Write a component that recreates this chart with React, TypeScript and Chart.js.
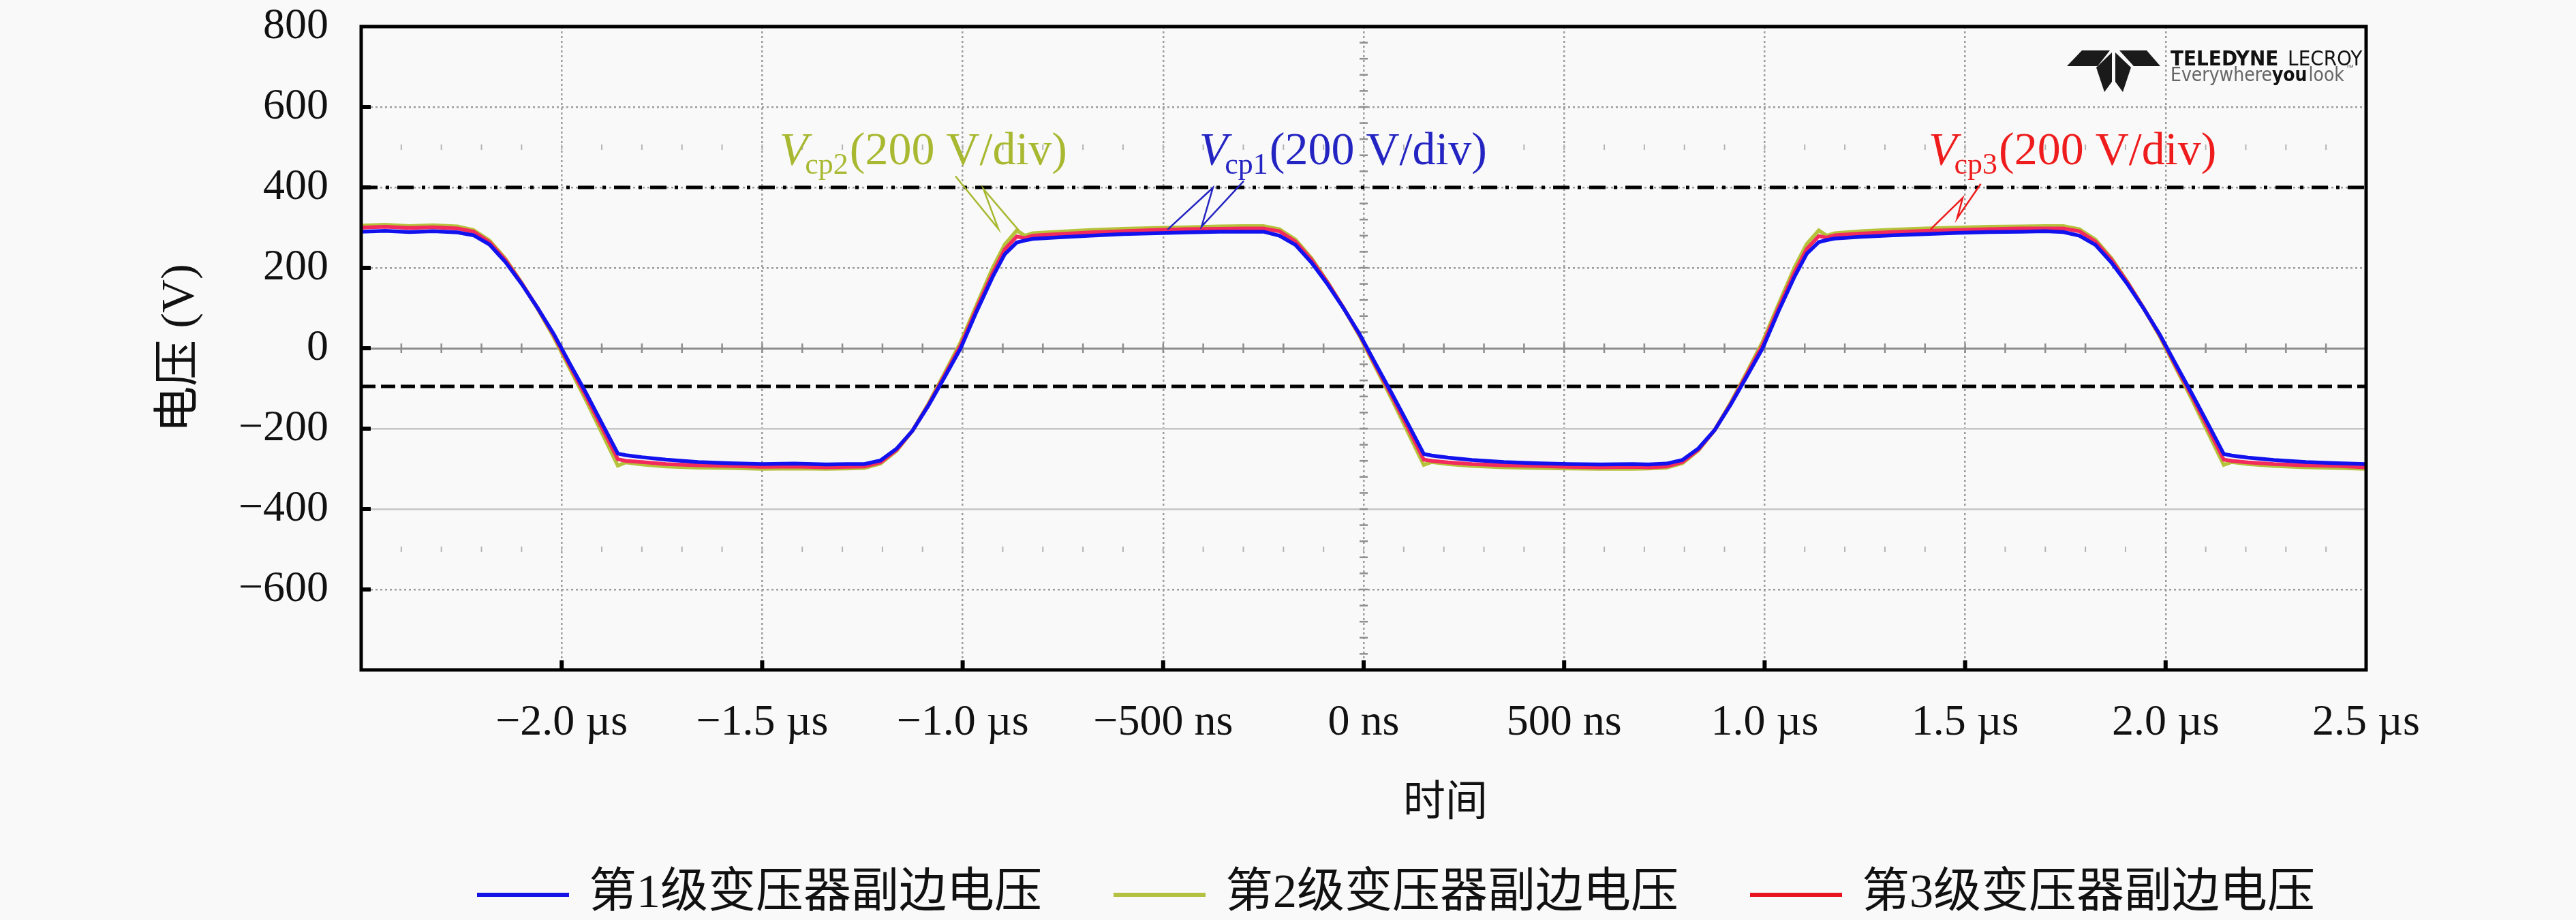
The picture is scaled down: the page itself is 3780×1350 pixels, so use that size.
import { useEffect, useRef } from 'react';
import { Chart, registerables } from 'chart.js';

Chart.register(...registerables);

// time axis in microseconds, shared by the three traces
const timeUs = [
  -2.5, -2.44, -2.38, -2.32,
  -2.26, -2.22, -2.18, -2.14, -2.1, -2.06, -2.02, -1.98, -1.94, -1.9, -1.86, -1.84, -1.8,
  -1.74, -1.66, -1.58, -1.5, -1.42, -1.34, -1.29,
  -1.245, -1.205, -1.165, -1.125, -1.085, -1.045, -1.005, -0.965, -0.925, -0.895, -0.865, -0.845, -0.825,
  -0.76, -0.68, -0.6, -0.52, -0.44, -0.36, -0.3,
  -0.25, -0.21, -0.17, -0.13, -0.09, -0.05, -0.01, 0.03, 0.07, 0.11, 0.15, 0.17, 0.21,
  0.27, 0.35, 0.43, 0.51, 0.59, 0.67, 0.71,
  0.755, 0.795, 0.835, 0.875, 0.915, 0.955, 0.995, 1.035, 1.075, 1.105, 1.135, 1.155, 1.175,
  1.24, 1.32, 1.4, 1.48, 1.56, 1.64, 1.7,
  1.745, 1.785, 1.825, 1.865, 1.905, 1.945, 1.985, 2.025, 2.065, 2.105, 2.145, 2.165, 2.205,
  2.27, 2.35, 2.43, 2.5,
];

const vcp1 = [
  290, 292, 289, 291,
  288, 281, 258, 214, 160, 100, 36, -38, -110, -186, -262, -266, -271,
  -277, -283, -286, -288, -287, -289, -288,
  -288, -279, -250, -205, -142, -72, 0, 92, 178, 234, 263, 268, 272,
  276, 280, 284, 286, 288, 290, 290,
  290, 280, 257, 213, 159, 99, 35, -39, -112, -187, -263, -267, -272,
  -278, -283, -286, -288, -289, -288, -289,
  -287, -278, -249, -204, -141, -71, 0, 93, 179, 235, 264, 269, 273,
  277, 281, 284, 287, 289, 290, 291,
  289, 280, 257, 213, 159, 99, 35, -39, -112, -187, -263, -267, -272,
  -278, -283, -286, -288,
];

const vcp2 = [
  305, 307, 304, 306,
  303, 294, 268, 222, 163, 98, 28, -50, -128, -210, -292, -284, -289,
  -294, -297, -298, -300, -299, -300, -299,
  -298, -287, -255, -205, -137, -62, 15, 108, 200, 258, 293, 280, 286,
  290, 294, 297, 299, 301, 303, 304,
  304, 296, 270, 224, 165, 100, 30, -48, -126, -208, -290, -283, -288,
  -293, -296, -298, -299, -300, -300, -299,
  -297, -286, -254, -204, -136, -61, 16, 110, 202, 259, 293, 280, 286,
  291, 295, 298, 300, 302, 303, 304,
  304, 296, 270, 224, 165, 100, 30, -48, -126, -208, -290, -283, -288,
  -293, -296, -298, -300,
];

const vcp3 = [
  300, 302, 299, 301,
  298, 290, 264, 219, 162, 100, 33, -43, -118, -197, -276, -280, -283,
  -288, -291, -293, -295, -294, -296, -295,
  -294, -284, -253, -205, -140, -67, 7, 100, 188, 246, 278, 274, 280,
  284, 288, 291, 294, 296, 297, 298,
  298, 291, 265, 220, 163, 100, 33, -43, -118, -197, -277, -280, -284,
  -288, -291, -293, -295, -296, -295, -296,
  -294, -283, -252, -204, -139, -66, 8, 101, 190, 247, 279, 275, 281,
  285, 289, 292, 294, 296, 298, 298,
  298, 291, 265, 220, 163, 100, 33, -43, -118, -197, -277, -280, -284,
  -288, -291, -293, -296,
];

const seriesNames = ['第1级变压器副边电压', '第2级变压器副边电压', '第3级变压器副边电压'];
const xTickLabels = ['', '−2.0 µs', '−1.5 µs', '−1.0 µs', '−500 ns', '0 ns', '500 ns', '1.0 µs', '1.5 µs', '2.0 µs', '2.5 µs'];
const yTickLabels = ['', '−600', '−400', '−200', '0', '200', '400', '600', '800'];
const xTitle = '时间';
const yTitle = '电压 (V)';

// reference levels: dash-dot and dashed horizontal lines (V)
const refLevels = [400, -95];

// "V_cp(200 V/div)" callouts: subscript, left edge (µs), leader polyline (µs, V)
const calloutSubs = ['cp1', 'cp2', 'cp3'];
const calloutUnit = '(200 V/div)';
const calloutX = [-0.41, -1.457, 1.409];
const calloutBaseline = 457;
const leader1X = [-0.299, -0.404, -0.376, -0.489];
const leader1Y = [416, 303, 399, 295];
const leader2X = [-1.018, -0.911, -0.948, -0.86];
const leader2Y = [428, 297, 396, 293];
const leader3X = [1.539, 1.48, 1.494, 1.414];
const leader3Y = [409, 323, 374, 296];

const traceColors = ['#1212ee', '#b6c23a', '#f22a5e'];
const textColors = ['#2424c2', '#a8b830', '#ee1c1c'];
const legendColors = ['#1414e6', '#b4c040', '#e8141e'];

const SERIF = '"Liberation Serif", "Noto Sans CJK SC", serif';
const BG = '#f9f9f9';

const scopePlugin = {
  id: 'scope',
  beforeDraw(chart: any) {
    const { ctx, width, height } = chart;
    ctx.save();
    ctx.fillStyle = BG;
    ctx.fillRect(0, 0, width, height);
    ctx.restore();
  },
  beforeDatasetsDraw(chart: any) {
    const { ctx } = chart;
    const xs = chart.scales.x;
    const ys = chart.scales.y;
    const y0 = ys.getPixelForValue(0);
    const x0 = xs.getPixelForValue(0);
    ctx.save();
    // graticule sub-division marks
    ctx.strokeStyle = '#8e8e8e';
    ctx.lineWidth = 2.5;
    for (let k = -24; k <= 24; k++) {
      const px = xs.getPixelForValue(k / 10);
      ctx.beginPath();
      ctx.moveTo(px, y0 - 7);
      ctx.lineTo(px, y0 + 7);
      ctx.stroke();
    }
    for (let v = -760; v <= 760; v += 40) {
      const py = ys.getPixelForValue(v);
      ctx.beginPath();
      ctx.moveTo(x0 - 6, py);
      ctx.lineTo(x0 + 6, py);
      ctx.stroke();
    }
    ctx.strokeStyle = '#b4b4b4';
    ctx.lineWidth = 2;
    [500, -500].forEach((v) => {
      const py = ys.getPixelForValue(v);
      for (let k = -24; k <= 24; k++) {
        const px = xs.getPixelForValue(k / 10);
        ctx.beginPath();
        ctx.moveTo(px, py - 4);
        ctx.lineTo(px, py + 4);
        ctx.stroke();
      }
    });
    ctx.restore();
  },
  afterDatasetsDraw(chart: any) {
    const { ctx, chartArea } = chart;
    const xs = chart.scales.x;
    const ys = chart.scales.y;
    const { left, right, top, bottom } = chartArea;
    ctx.save();

    // frame and inward ticks
    ctx.strokeStyle = '#000';
    ctx.lineWidth = 5;
    ctx.strokeRect(left, top, right - left, bottom - top);
    ctx.lineWidth = 6;
    for (let v = -600; v <= 600; v += 200) {
      const py = ys.getPixelForValue(v);
      ctx.beginPath();
      ctx.moveTo(left, py);
      ctx.lineTo(left + 14, py);
      ctx.stroke();
    }
    for (let k = -4; k <= 4; k++) {
      const px = xs.getPixelForValue(k / 2);
      ctx.beginPath();
      ctx.moveTo(px, bottom);
      ctx.lineTo(px, bottom - 14);
      ctx.stroke();
    }

    // callouts
    const leaders = [
      [leader1X, leader1Y],
      [leader2X, leader2Y],
      [leader3X, leader3Y],
    ];
    calloutSubs.forEach((sub, i) => {
      const [lx, ly] = leaders[i];
      ctx.strokeStyle = textColors[i];
      ctx.lineWidth = 2.5;
      ctx.beginPath();
      lx.forEach((t, j) => {
        const px = xs.getPixelForValue(t);
        const py = ys.getPixelForValue(ly[j]);
        if (j === 0) ctx.moveTo(px, py);
        else ctx.lineTo(px, py);
      });
      ctx.stroke();

      const x = xs.getPixelForValue(calloutX[i]);
      const y = ys.getPixelForValue(calloutBaseline);
      ctx.fillStyle = textColors[i];
      ctx.textAlign = 'left';
      ctx.textBaseline = 'alphabetic';
      ctx.font = `italic 68px ${SERIF}`;
      ctx.fillText('V', x, y);
      let w = ctx.measureText('V').width;
      ctx.font = `44px ${SERIF}`;
      ctx.fillText(sub, x + w - 4, y + 14);
      w += ctx.measureText(sub).width - 2;
      ctx.font = `68px ${SERIF}`;
      ctx.fillText(calloutUnit, x + w, y);
    });

    // oscilloscope logo, top right
    const ox = right - 439;
    const oy = top + 34;
    const poly = (pts: number[][]) => {
      ctx.beginPath();
      pts.forEach(([px, py], j) => (j === 0 ? ctx.moveTo(ox + px, oy + py) : ctx.lineTo(ox + px, oy + py)));
      ctx.closePath();
      ctx.fill();
    };
    ctx.fillStyle = '#1a1a1a';
    poly([[0, 24], [22, 1], [63, 1], [45, 24]]);
    poly([[137, 24], [117, 1], [77, 1], [98, 24]]);
    poly([[43, 26], [66, 4], [66, 47], [55, 62]]);
    poly([[94, 26], [71, 4], [71, 47], [82, 62]]);
    const tx = right - 287;
    ctx.textBaseline = 'alphabetic';
    ctx.fillStyle = '#111';
    ctx.font = 'bold 31px "Liberation Sans Narrow", "DejaVu Sans Condensed", sans-serif';
    ctx.fillText('TELEDYNE', tx, top + 57);
    let lw = ctx.measureText('TELEDYNE ').width;
    ctx.font = '31px "Liberation Sans Narrow", "DejaVu Sans Condensed", sans-serif';
    ctx.fillText('LECROY', tx + lw + 4, top + 57);
    ctx.font = '28px "Liberation Sans Narrow", "DejaVu Sans Condensed", sans-serif';
    ctx.fillStyle = '#666';
    ctx.fillText('Everywhere', tx, top + 80);
    lw = ctx.measureText('Everywhere').width;
    ctx.font = 'bold 28px "Liberation Sans Narrow", "DejaVu Sans Condensed", sans-serif';
    ctx.fillStyle = '#111';
    ctx.fillText('you', tx + lw, top + 80);
    lw += ctx.measureText('you').width;
    ctx.font = '28px "Liberation Sans Narrow", "DejaVu Sans Condensed", sans-serif';
    ctx.fillStyle = '#666';
    ctx.fillText('look', tx + lw + 2, top + 80);
    lw += ctx.measureText('look').width + 2;
    ctx.font = '12px "Liberation Sans", sans-serif';
    ctx.fillText('™', tx + lw + 2, top + 64);

    // x axis title
    const cx = (left + right) / 2;
    ctx.fillStyle = '#111';
    ctx.textAlign = 'center';
    ctx.textBaseline = 'middle';
    ctx.font = `62px ${SERIF}`;
    ctx.fillText(xTitle, cx + 120, 1181);

    // legend
    const ly0 = 1313;
    seriesNames.forEach((name, i) => {
      const sx = cx - 1301 + i * 934;
      ctx.strokeStyle = legendColors[i];
      ctx.lineWidth = 6;
      ctx.beginPath();
      ctx.moveTo(sx, ly0);
      ctx.lineTo(sx + 135, ly0);
      ctx.stroke();
      ctx.fillStyle = '#111';
      ctx.textAlign = 'left';
      ctx.textBaseline = 'middle';
      ctx.font = `70px ${SERIF}`;
      ctx.fillText(name, sx + 164, ly0);
    });

    ctx.restore();
  },
};

export default function App() {
  const canvasRef = useRef<HTMLCanvasElement>(null);

  useEffect(() => {
    document.body.style.margin = '0';
    document.body.style.background = BG;
    const canvas = canvasRef.current;
    if (!canvas) return;

    const toPoints = (vals: number[]) => timeUs.map((t, i) => ({ x: t, y: vals[i] }));
    const refLine = (level: number, dash: number[]) => ({
      data: [{ x: -2.5, y: level }, { x: 2.5, y: level }],
      borderColor: '#000',
      borderWidth: 5,
      borderDash: dash,
      pointRadius: 0,
      order: 6,
    });

    const chart = new Chart(canvas, {
      type: 'line',
      data: {
        datasets: [
          refLine(refLevels[0], [24, 12, 5, 12]) as any,
          refLine(refLevels[1], [21, 8]) as any,
          { label: seriesNames[1], data: toPoints(vcp2), borderColor: traceColors[1], borderWidth: 5.5, pointRadius: 0, order: 4 },
          { label: seriesNames[2], data: toPoints(vcp3), borderColor: traceColors[2], borderWidth: 5.5, pointRadius: 0, order: 3 },
          { label: seriesNames[0], data: toPoints(vcp1), borderColor: traceColors[0], borderWidth: 5.5, pointRadius: 0, order: 2 },
        ],
      },
      options: {
        responsive: true,
        maintainAspectRatio: false,
        animation: false,
        devicePixelRatio: 1,
        layout: { padding: { left: 0, right: 308, top: 39, bottom: 0 } },
        elements: { line: { tension: 0 }, point: { radius: 0 } },
        plugins: {
          legend: { display: false },
          tooltip: { enabled: false },
        },
        scales: {
          x: {
            type: 'linear',
            min: -2.5,
            max: 2.5,
            ticks: {
              stepSize: 0.5,
              autoSkip: false,
              maxRotation: 0,
              padding: 40,
              color: '#111',
              font: { family: SERIF, size: 64 },
              callback: (v: any) => xTickLabels[Math.round((Number(v) + 2.5) / 0.5)] ?? '',
            },
            grid: {
              drawTicks: false,
              lineWidth: 2.5,
              color: (c: any) => (Math.abs(c.tick?.value ?? 0) > 2.4 ? 'rgba(0,0,0,0)' : '#9c9c9c'),
            },
            border: { display: false, dash: [3, 4] },
            afterFit: (s: any) => {
              s.height = 367;
            },
          },
          y: {
            min: -800,
            max: 800,
            ticks: {
              stepSize: 200,
              padding: 48,
              color: '#111',
              font: { family: SERIF, size: 64 },
              callback: (v: any) => yTickLabels[Math.round((Number(v) + 800) / 200)] ?? '',
            },
            grid: {
              drawTicks: false,
              lineWidth: (c: any) => (c.tick?.value === 0 ? 3 : 2.5),
              color: (c: any) => {
                const v = c.tick?.value;
                if (v === 800 || v === -800) return 'rgba(0,0,0,0)';
                if (v === 0) return '#8e8e8e';
                if (v === -200 || v === -400) return '#c6c6c6';
                return '#9c9c9c';
              },
            },
            border: {
              display: false,
              dash: (c: any) => {
                const v = c.tick?.value;
                return v === 0 || v === -200 || v === -400 ? [] : [3, 4];
              },
            },
            title: {
              display: true,
              text: yTitle,
              color: '#111',
              font: { family: SERIF, size: 68 },
              padding: { top: 224, bottom: 0 },
            },
            afterFit: (s: any) => {
              s.width = 530;
              s.paddingTop = 0;
              s.paddingBottom = 0;
            },
          },
        },
      },
      plugins: [scopePlugin],
    });

    return () => chart.destroy();
  }, []);

  return (
    <div style={{ width: 3780, height: 1350, position: 'relative', background: BG }}>
      <canvas ref={canvasRef} />
    </div>
  );
}
